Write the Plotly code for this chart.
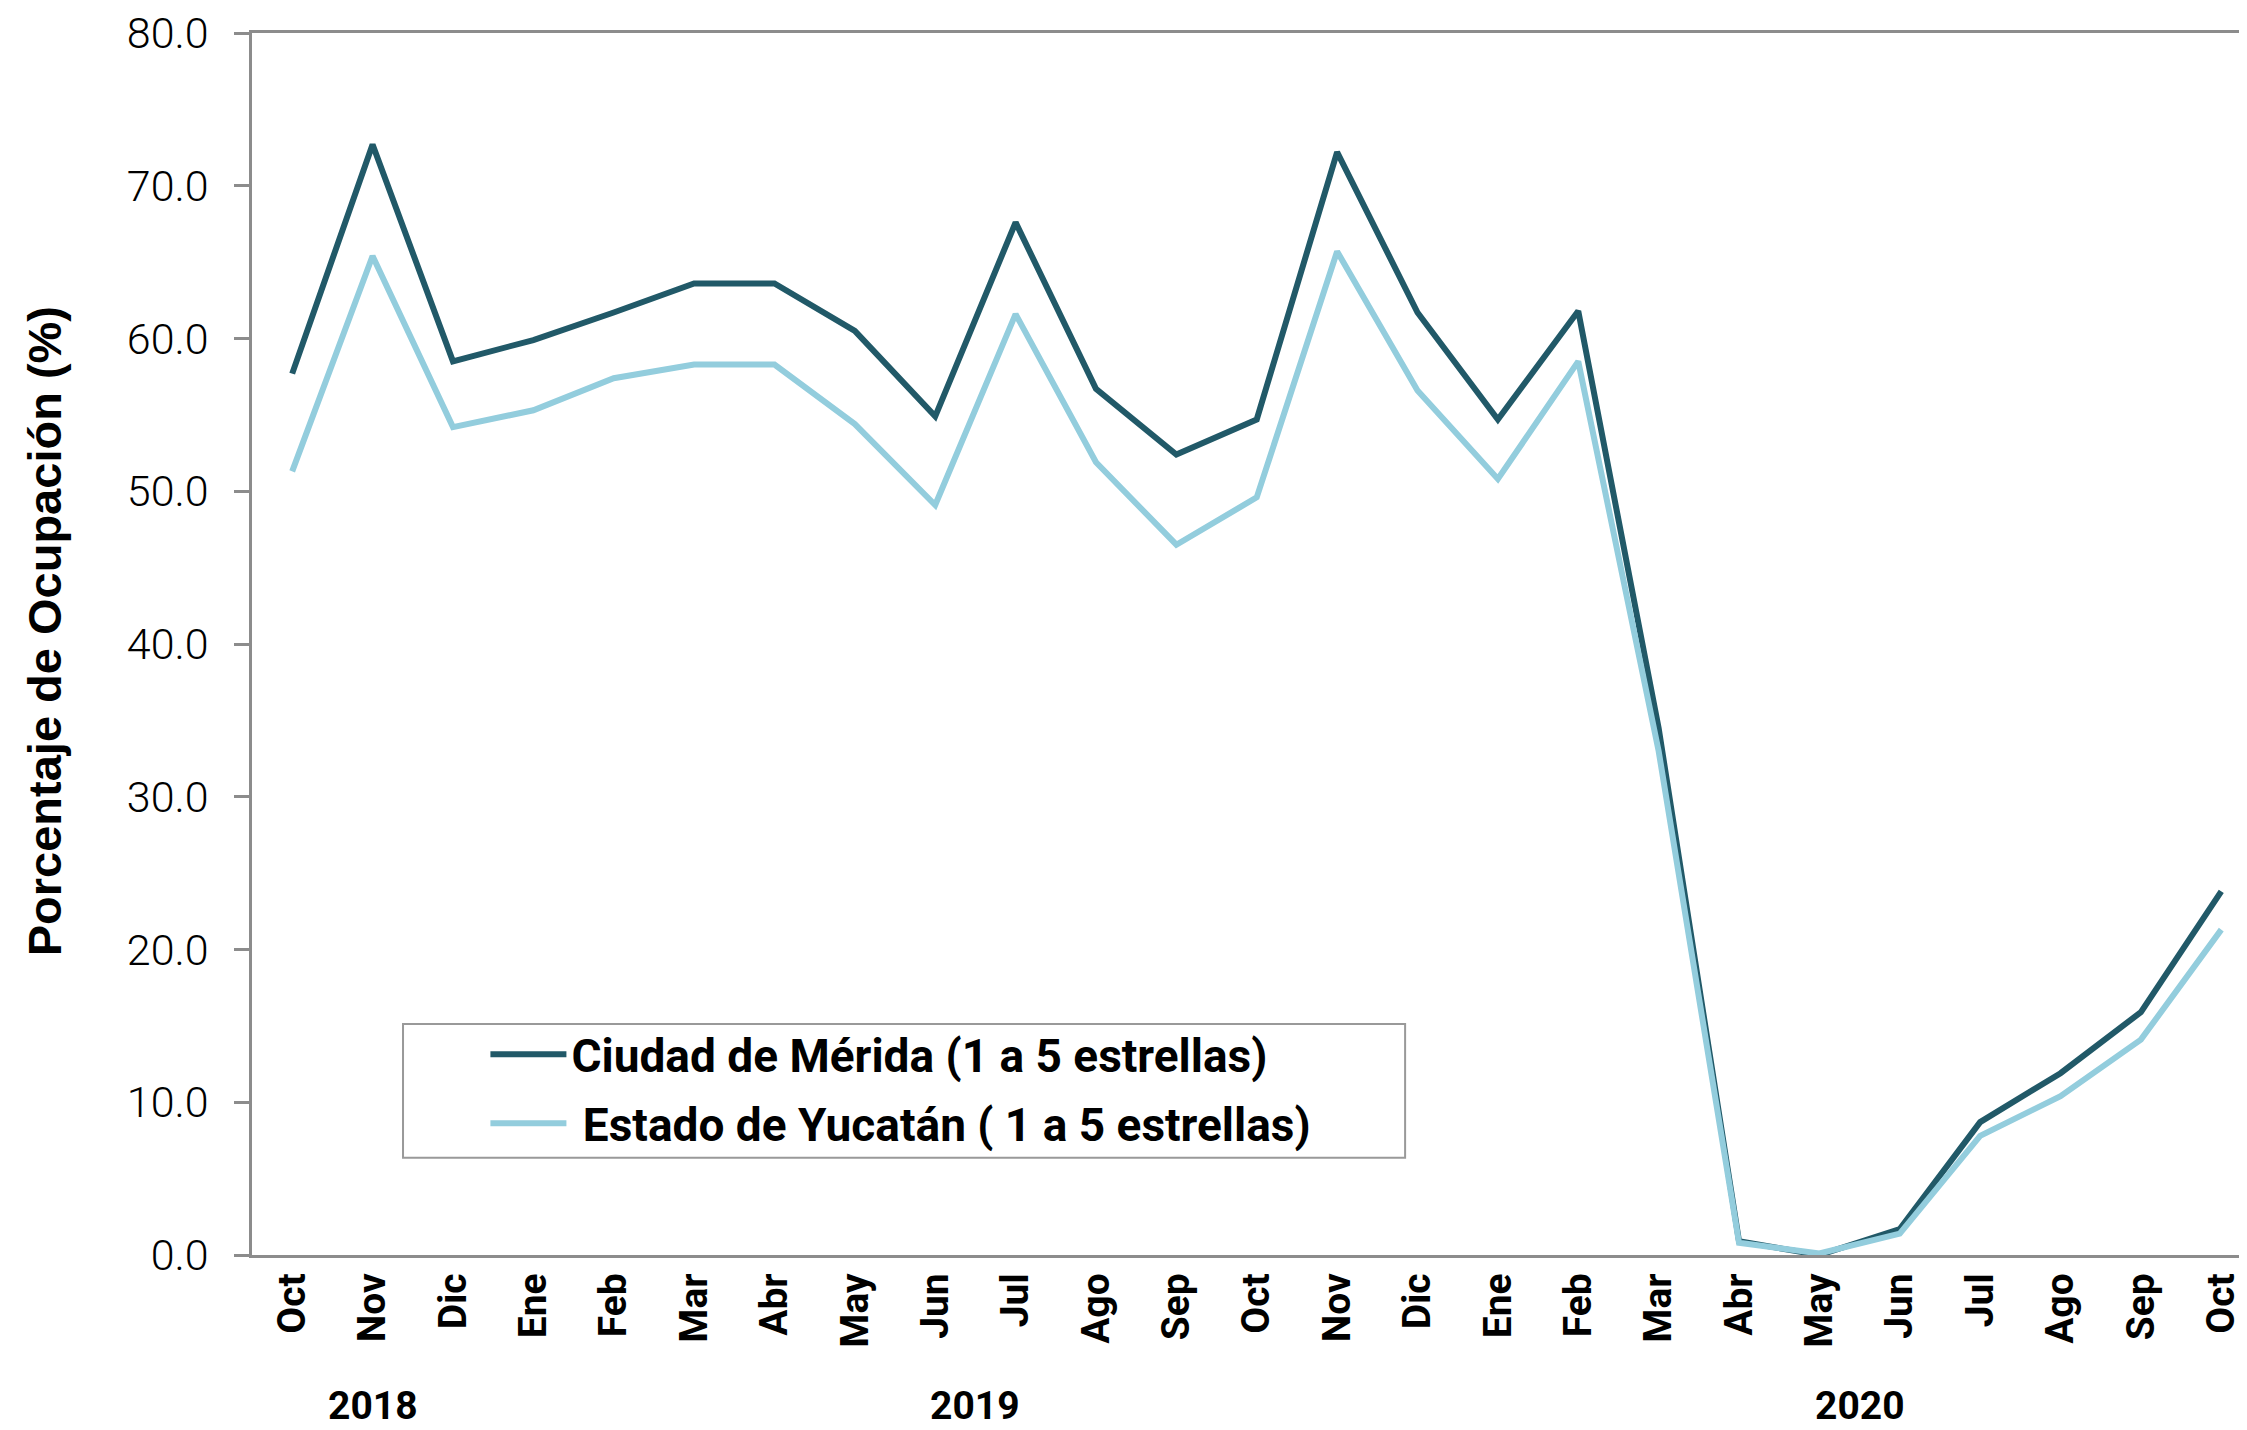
import plotly.graph_objects as go

# months Oct 2018 - Oct 2020
meses = ['Oct', 'Nov', 'Dic',
         'Ene', 'Feb', 'Mar', 'Abr', 'May', 'Jun', 'Jul', 'Ago', 'Sep', 'Oct', 'Nov', 'Dic',
         'Ene', 'Feb', 'Mar', 'Abr', 'May', 'Jun', 'Jul', 'Ago', 'Sep', 'Oct']
anios = ['2018'] * 3 + ['2019'] * 12 + ['2020'] * 10

merida = [57.7, 72.7, 58.5, 59.9, 61.7, 63.6, 63.6, 60.5, 54.9, 67.6, 56.7, 52.4, 54.7,
          72.2, 61.7, 54.7, 61.8, 34.5, 0.9, 0.0, 1.7, 8.7, 11.9, 15.9, 23.8]
yucatan = [51.3, 65.4, 54.2, 55.3, 57.4, 58.3, 58.3, 54.4, 49.1, 61.6, 51.9, 46.5, 49.6,
           65.7, 56.6, 50.8, 58.5, 33.0, 0.8, 0.1, 1.4, 7.8, 10.4, 14.1, 21.3]

nombre_merida = 'Ciudad de Mérida (1 a 5 estrellas)'
nombre_yucatan = ' Estado de Yucatán ( 1 a 5 estrellas)'

x = list(range(len(meses)))

fig = go.Figure()
fig.add_trace(go.Scatter(x=x, y=merida, mode='lines', name=nombre_merida,
                         legendgroup='a', line=dict(color='#215968', width=6)))
fig.add_trace(go.Scatter(x=x, y=yucatan, mode='lines', name=nombre_yucatan,
                         legendgroup='b', line=dict(color='#93CDDD', width=6)))

# year labels under the month labels
for anio in ['2018', '2019', '2020']:
    idx = [i for i, a in enumerate(anios) if a == anio]
    fig.add_annotation(x=(idx[0] + idx[-1]) / 2, y=0, xref='x', yref='paper',
                       yshift=-176, text=anio, showarrow=False,
                       font=dict(family='Roboto', size=39, color='black', weight='bold'))

# y title
fig.add_annotation(x=-0.104, y=0.51, xref='paper', yref='paper', xanchor='center', yanchor='middle',
                   text='Porcentaje de Ocupación (%)', textangle=-90, showarrow=False,
                   font=dict(family='Liberation Sans, Arial', size=47, color='black', weight='bold'))

# legend frame
fig.add_shape(type='rect', xref='paper', yref='paper', x0=0.0757, x1=0.578, y0=0.0795, y1=0.189,
              line=dict(color='#999999', width=2), fillcolor='white', layer='below')

fig.update_layout(
    width=2239, height=1422,
    margin=dict(l=244, r=0, t=25, b=175),
    plot_bgcolor='white', paper_bgcolor='white',
    showlegend=True,
    legend=dict(x=0.117, y=0.194, xanchor='left', yanchor='top', bgcolor='rgba(0,0,0,0)',
                font=dict(family='Roboto', size=46, color='black', weight='bold'),
                itemwidth=76, tracegroupgap=6),
    xaxis=dict(tickmode='array', tickvals=x, ticktext=meses, tickangle=-90,
               range=[-0.5, 24.32], showgrid=False, zeroline=False, automargin=False,
               showline=True, linecolor='#8c8c8c', linewidth=2.5, mirror=True, ticks='',
               ticklabeloverflow='allow',
               tickfont=dict(family='Roboto', size=39, color='black', weight='bold')),
    yaxis=dict(range=[0, 80], dtick=10, tickformat='.1f', showgrid=False, zeroline=False,
               automargin=False,
               showline=True, linecolor='#8c8c8c', linewidth=2.5,
               ticks='outside', ticklen=15, tickwidth=2.5, tickcolor='#8c8c8c',
               ticklabelstandoff=17, ticklabeloverflow='allow',
               tickfont=dict(family='Roboto', size=43, color='black', weight=300)),
)

fig.write_html('out.html')
